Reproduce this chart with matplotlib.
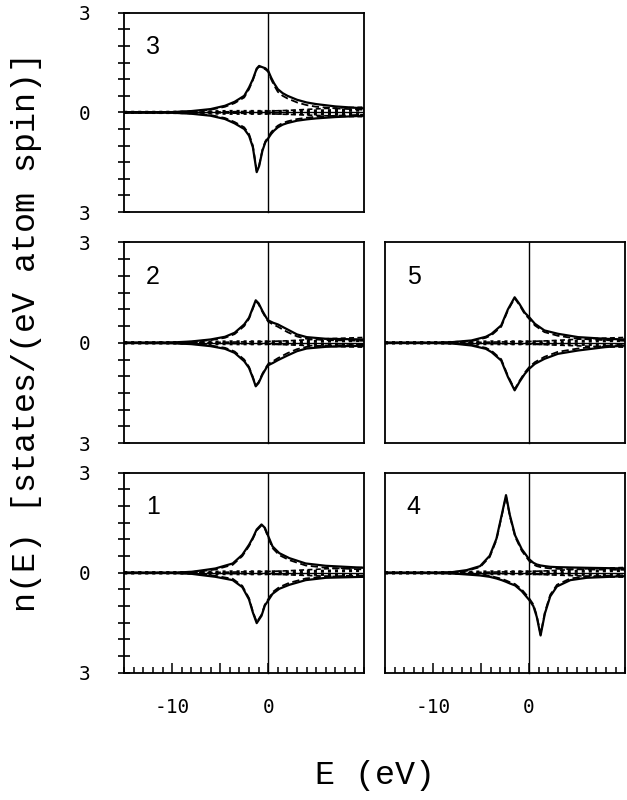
import numpy as np
import matplotlib.pyplot as plt
from matplotlib.ticker import FixedLocator, FixedFormatter, MultipleLocator

plt.rcParams['font.family'] = ['DejaVu Sans Mono']

# panel 3
E3 = [-15, -10, -8, -6, -4.5, -3.5, -2.5, -2.0, -1.6, -1.2, -0.95, -0.6, -0.3, 0, 0.3, 0.6, 1.0, 1.5, 2, 3, 4, 5, 7, 10]
up3 = [0, 0.01, 0.04, 0.1, 0.2, 0.32, 0.5, 0.75, 1.0, 1.32, 1.4, 1.36, 1.33, 1.25, 1.05, 0.88, 0.7, 0.58, 0.5, 0.38, 0.3, 0.25, 0.18, 0.12]
dn3 = [0, -0.01, -0.04, -0.1, -0.2, -0.33, -0.5, -0.7, -1.05, -1.8, -1.62, -1.15, -0.9, -0.78, -0.65, -0.55, -0.45, -0.37, -0.32, -0.25, -0.21, -0.18, -0.14, -0.1]
ud3 = [0, 0.01, 0.03, 0.08, 0.17, 0.28, 0.45, 0.7, 0.97, 1.3, 1.38, 1.33, 1.3, 1.22, 1.0, 0.82, 0.62, 0.5, 0.42, 0.3, 0.22, 0.17, 0.12, 0.08]
dd3 = [0, -0.01, -0.03, -0.08, -0.17, -0.29, -0.45, -0.65, -1.0, -1.76, -1.6, -1.12, -0.87, -0.74, -0.6, -0.5, -0.4, -0.32, -0.27, -0.2, -0.16, -0.13, -0.1, -0.07]

# panel 2
E2 = [-15, -10, -8, -6, -4.5, -3.5, -2.5, -2.0, -1.6, -1.3, -1.0, -0.6, -0.2, 0, 0.5, 1, 2, 3, 4, 6, 8, 10]
up2 = [0, 0.01, 0.04, 0.1, 0.18, 0.3, 0.55, 0.75, 1.05, 1.27, 1.18, 0.95, 0.75, 0.67, 0.6, 0.55, 0.4, 0.25, 0.17, 0.12, 0.11, 0.1]
dn2 = [0, -0.01, -0.04, -0.1, -0.18, -0.3, -0.55, -0.75, -1.05, -1.3, -1.2, -0.95, -0.75, -0.67, -0.6, -0.52, -0.38, -0.25, -0.17, -0.12, -0.1, -0.09]
ud2 = [0, 0.01, 0.03, 0.08, 0.15, 0.26, 0.5, 0.72, 1.02, 1.25, 1.15, 0.92, 0.72, 0.63, 0.55, 0.48, 0.32, 0.19, 0.12, 0.08, 0.07, 0.06]
dd2 = [0, -0.01, -0.03, -0.08, -0.15, -0.26, -0.5, -0.72, -1.02, -1.28, -1.17, -0.92, -0.72, -0.63, -0.55, -0.46, -0.31, -0.19, -0.12, -0.08, -0.07, -0.06]

# panel 5
E5 = [-15, -10, -8, -6, -4.5, -3.9, -2.9, -2.2, -1.5, -1.0, -0.45, 0, 0.6, 1.6, 3, 5.1, 7.9, 10]
up5 = [0, 0.0, 0.02, 0.07, 0.18, 0.27, 0.52, 1.0, 1.36, 1.16, 0.9, 0.77, 0.57, 0.37, 0.27, 0.17, 0.12, 0.1]
dn5 = [0, 0.0, -0.02, -0.08, -0.18, -0.28, -0.53, -1.02, -1.42, -1.17, -0.93, -0.78, -0.63, -0.48, -0.33, -0.23, -0.13, -0.08]
ud5 = [0, 0, 0.01, 0.05, 0.15, 0.23, 0.48, 0.97, 1.33, 1.13, 0.86, 0.72, 0.52, 0.32, 0.21, 0.12, 0.08, 0.06]
dd5 = [0, 0, -0.01, -0.06, -0.15, -0.24, -0.49, -0.99, -1.39, -1.14, -0.89, -0.73, -0.58, -0.42, -0.27, -0.17, -0.09, -0.06]

# panel 1
E1 = [-15, -10, -8, -7.2, -5.5, -3.7, -2.7, -2.0, -1.6, -1.2, -0.7, -0.35, 0, 0.45, 1.15, 2.2, 3.9, 6, 10]
up1 = [0, 0.0, 0.03, 0.06, 0.13, 0.28, 0.54, 0.84, 1.05, 1.3, 1.45, 1.35, 1.1, 0.79, 0.59, 0.44, 0.28, 0.21, 0.15]
dn1 = [0, 0.0, -0.03, -0.06, -0.12, -0.22, -0.43, -0.8, -1.19, -1.51, -1.29, -0.98, -0.83, -0.63, -0.48, -0.36, -0.22, -0.15, -0.12]
ud1 = [0, 0, 0.02, 0.04, 0.1, 0.24, 0.5, 0.8, 1.02, 1.27, 1.42, 1.32, 1.06, 0.74, 0.53, 0.38, 0.22, 0.15, 0.1]
dd1 = [0, 0, -0.02, -0.04, -0.09, -0.18, -0.39, -0.76, -1.16, -1.48, -1.26, -0.95, -0.79, -0.58, -0.43, -0.3, -0.17, -0.11, -0.08]

# panel 4
E4 = [-15, -10, -8, -6.5, -5.1, -4.1, -3.4, -2.85, -2.4, -2.0, -1.45, -0.76, 0, 0.45, 0.8, 1.2, 1.65, 2.2, 2.9, 4.3, 6, 10]
up4 = [0, 0, 0.02, 0.08, 0.2, 0.51, 1.02, 1.73, 2.33, 1.73, 1.12, 0.71, 0.41, 0.3, 0.25, 0.22, 0.2, 0.18, 0.17, 0.16, 0.15, 0.13]
dn4 = [0, 0, -0.02, -0.05, -0.08, -0.12, -0.17, -0.22, -0.27, -0.32, -0.38, -0.55, -0.81, -1.0, -1.32, -1.88, -1.22, -0.71, -0.41, -0.22, -0.15, -0.1]
ud4 = [0, 0, 0.01, 0.06, 0.17, 0.47, 0.98, 1.7, 2.3, 1.7, 1.08, 0.66, 0.36, 0.25, 0.2, 0.17, 0.15, 0.13, 0.12, 0.11, 0.1, 0.09]
dd4 = [0, 0, -0.01, -0.03, -0.06, -0.09, -0.14, -0.18, -0.23, -0.28, -0.34, -0.5, -0.76, -0.95, -1.28, -1.85, -1.18, -0.66, -0.36, -0.17, -0.11, -0.07]

# small s / p contributions (same look in every panel)
Esp = [-15, -10, -8, -6, -4, -2, 0, 2, 4, 6, 8, 10]
s_up = [0, 0.005, 0.01, 0.02, 0.03, 0.03, 0.03, 0.03, 0.04, 0.05, 0.06, 0.07]
s_dn = [0, -0.005, -0.01, -0.02, -0.03, -0.03, -0.03, -0.03, -0.04, -0.05, -0.06, -0.07]
p_up = [0, 0, 0.005, 0.01, 0.02, 0.03, 0.04, 0.06, 0.09, 0.12, 0.14, 0.16]
p_dn = [0, 0, -0.005, -0.01, -0.02, -0.03, -0.04, -0.06, -0.08, -0.1, -0.12, -0.13]

panels = [
    ('3', E3, up3, dn3, ud3, dd3, [0.198, 0.735, 0.383, 0.249]),
    ('2', E2, up2, dn2, ud2, dd2, [0.198, 0.446, 0.383, 0.251]),
    ('5', E5, up5, dn5, ud5, dd5, [0.614, 0.446, 0.383, 0.251]),
    ('1', E1, up1, dn1, ud1, dd1, [0.198, 0.159, 0.383, 0.250]),
    ('4', E4, up4, dn4, ud4, dd4, [0.614, 0.159, 0.383, 0.250]),
]

fig = plt.figure(figsize=(6.27, 8.0), dpi=100)

for name, E, up, dn, ud, dd, pos in panels:
    ax = fig.add_axes(pos)
    ax.axhline(0, color='k', lw=1.0)
    ax.axvline(0, color='k', lw=1.0, clip_on=False)
    ax.plot(Esp, s_up, color='k', lw=2.2, ls=(0, (1, 1.3)))
    ax.plot(Esp, s_dn, color='k', lw=2.2, ls=(0, (1, 1.3)))
    ax.plot(Esp, p_up, color='k', lw=1.2, ls=(0, (3, 2)))
    ax.plot(Esp, p_dn, color='k', lw=1.2, ls=(0, (3, 2)))
    ax.plot(E, ud, color='k', lw=1.3, ls=(0, (4, 2)))
    ax.plot(E, dd, color='k', lw=1.3, ls=(0, (4, 2)))
    ax.plot(E, up, color='k', lw=1.6)
    ax.plot(E, dn, color='k', lw=1.6)
    ax.set_xlim(-15, 10)
    ax.set_ylim(-3, 3)
    for s in ax.spines.values():
        s.set_linewidth(1.3)
    ax.text(0.12, 0.83, name, transform=ax.transAxes, ha='center', va='center',
            fontsize=18, family='Liberation Sans')

    left = pos[0] < 0.5
    bottom = pos[1] < 0.3
    if left:
        ax.yaxis.set_major_locator(FixedLocator([-3, 0, 3]))
        ax.yaxis.set_major_formatter(FixedFormatter(['3', '0', '3']))
        ax.yaxis.set_minor_locator(MultipleLocator(0.5))
        ax.tick_params(axis='y', which='major', direction='inout', length=9, width=1.2,
                       pad=20, labelsize=14)
        ax.tick_params(axis='y', which='minor', direction='inout', length=8, width=1.2)
    else:
        ax.set_yticks([])
    if bottom:
        ax.xaxis.set_major_locator(FixedLocator([-10, -5, 0]))
        ax.xaxis.set_major_formatter(FixedFormatter(['-10', '', '0']))
        ax.xaxis.set_minor_locator(MultipleLocator(1))
        ax.tick_params(axis='x', which='major', direction='in', length=7, width=1.1,
                       pad=18, labelsize=14)
        ax.tick_params(axis='x', which='minor', direction='in', length=4, width=1.1)
    else:
        ax.set_xticks([])

fig.text(0.042, 0.585, 'n(E) [states/(eV atom spin)]', rotation=90,
         ha='center', va='center', fontsize=24, family='Liberation Mono')
fig.text(0.598, 0.031, 'E (eV)', ha='center', va='center', fontsize=24,
         family='Liberation Mono')

fig.savefig('out.png', dpi=100)
